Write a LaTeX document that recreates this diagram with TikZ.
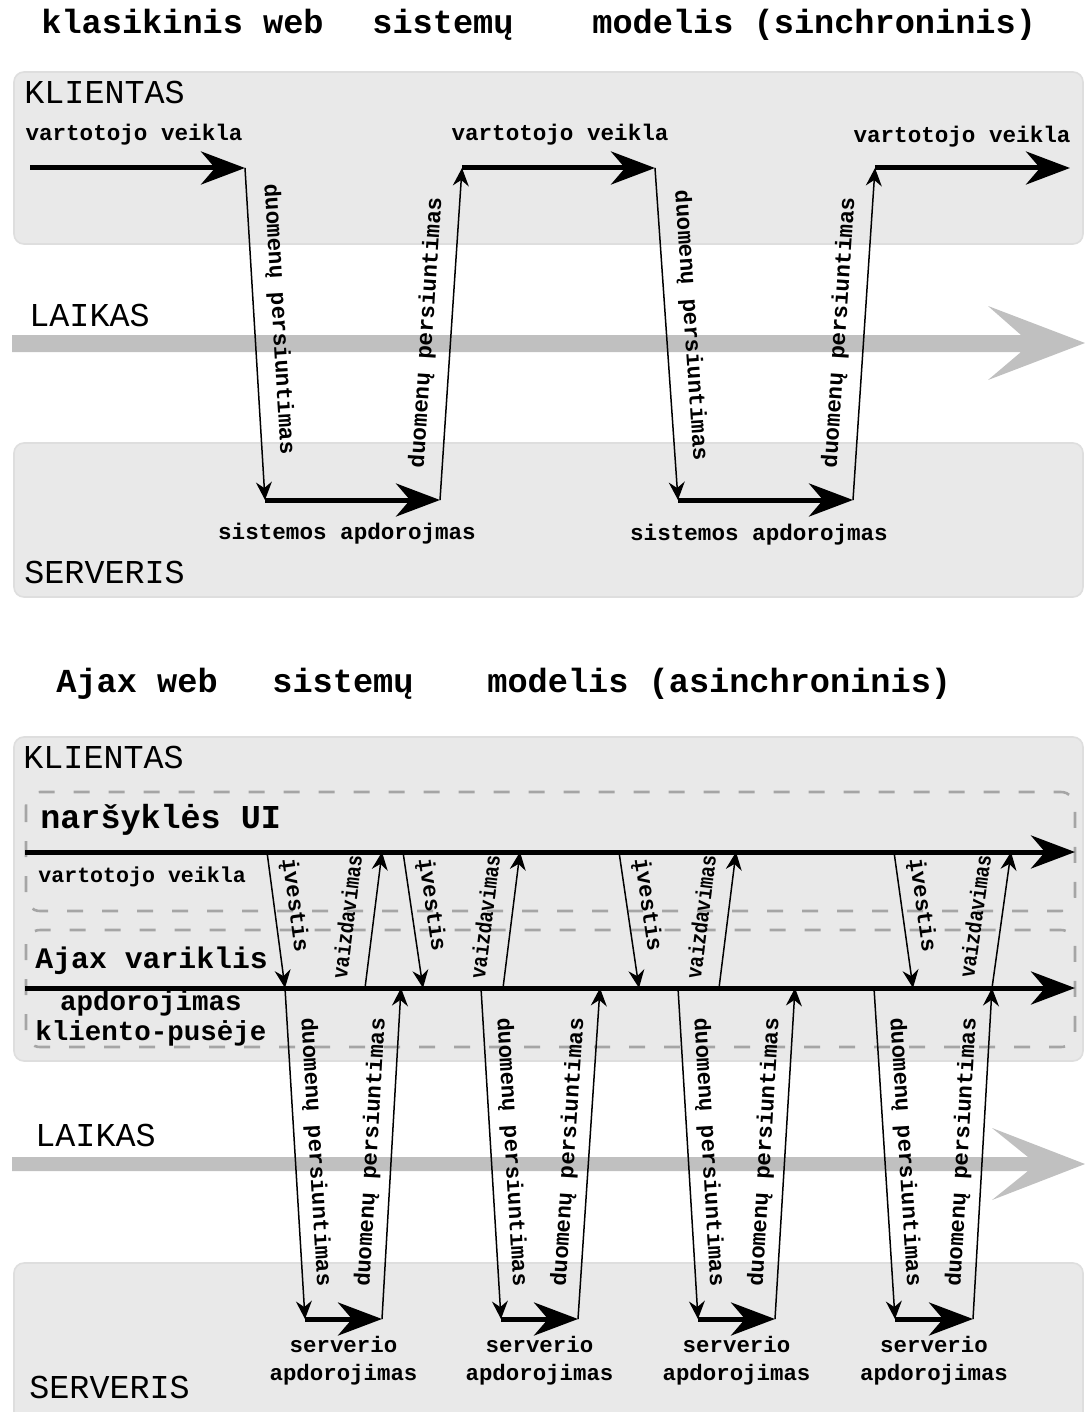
\documentclass[tikz,border=0pt]{standalone}
\usepackage{fontspec}
\newfontfamily\cour{Liberation Mono}
\usetikzlibrary{arrows.meta,calc}
\definecolor{panel}{RGB}{233,233,233}
\definecolor{panelrim}{RGB}{222,222,222}
\definecolor{timeband}{RGB}{192,192,192}
\definecolor{dashgray}{RGB}{165,165,165}

\begin{document}
\begin{tikzpicture}[x=0.5pt,y=-0.5pt,
  panelbox/.style={fill=panel,draw=panelrim,line width=0.8pt,rounded corners=5pt},
  layerbox/.style={draw=dashgray,line width=1.3pt,dash pattern=on 8pt off 9.5pt,rounded corners=7pt},
  band/.style={fill=timeband,draw=none},
  flowarr/.style={line width=2.5pt,-{Stealth[length=22pt,width=16.5pt,inset=7pt]}},
  msgarr/.style={line width=0.75pt,-{Stealth[length=9pt,width=8pt,inset=3pt]}},
  ttl/.style={font=\cour\bfseries\fontsize{16.8pt}{20pt}\selectfont,inner sep=0pt,anchor=base west},
  zone/.style={font=\cour\fontsize{16.7pt}{20pt}\selectfont,inner sep=0pt,anchor=west},
  small/.style={font=\cour\bfseries\fontsize{11.3pt}{14pt}\selectfont,inner sep=0pt},
  msgtop/.style={small,sloped,above=6.5pt},
  msgbot/.style={font=\cour\bfseries\fontsize{11.2pt}{14pt}\selectfont,inner sep=0pt,sloped,above=4.5pt},
  vzd/.style={font=\cour\bfseries\fontsize{11.2pt}{14pt}\selectfont,inner sep=0pt,sloped,above=9pt},
]
\clip (0,0) rectangle (1085,1412);
\fill[white] (0,0) rectangle (1085,1412);

% ---------- synchronous model ----------
\node[ttl] (t1a) at (41,34) {klasikinis web};
\node[ttl] (t1b) at (372,34) {sistemų};
\node[ttl] (t1c) at (592,34) {modelis (sinchroninis)};

\draw[panelbox] (14,72) rectangle (1083,244);
\draw[panelbox] (14,443) rectangle (1083,597);
\path[band] (12,335) -- (1021,335) -- (988,306) -- (1085,343) -- (988,380) -- (1021,352) -- (12,352) -- cycle;

\node[zone] (kl1) at (24,92) {KLIENTAS};
\node[zone] (lk1) at (29,315) {LAIKAS};
\node[zone] (sv1) at (24,572) {SERVERIS};

\coordinate (a0) at (30,168);
\coordinate (a1) at (245,168);
\coordinate (s1a) at (265,500);
\coordinate (s1b) at (440,500);
\coordinate (a2) at (462,168);
\coordinate (a3) at (655,168);
\coordinate (s2a) at (678,500);
\coordinate (s2b) at (853,500);
\coordinate (a4) at (875,168);
\coordinate (a5) at (1070,168);

\draw[flowarr] (a0) -- (a1);
\draw[msgarr] (a1) -- node[msgtop,pos=0.46] (m1) {duomenų persiuntimas} (s1a);
\draw[flowarr] (s1a) -- (s1b);
\draw[msgarr] (s1b) -- node[msgtop] (m2) {duomenų persiuntimas} (a2);
\draw[flowarr] (a2) -- (a3);
\draw[msgarr] (a3) -- node[msgtop,pos=0.48] (m3) {duomenų persiuntimas} (s2a);
\draw[flowarr] (s2a) -- (s2b);
\draw[msgarr] (s2b) -- node[msgtop] (m4) {duomenų persiuntimas} (a4);
\draw[flowarr] (a4) -- (a5);

\node[small] (va1) at (134,135) {vartotojo veikla};
\node[small] (va2) at (560,135) {vartotojo veikla};
\node[small] (va3) at (962,137) {vartotojo veikla};
\node[small] (sa1) at (347,534) {sistemos apdorojmas};
\node[small] (sa2) at (759,535) {sistemos apdorojmas};

% ---------- asynchronous model ----------
\node[ttl] (t2a) at (56,692) {Ajax web};
\node[ttl] (t2b) at (272,692) {sistemų};
\node[ttl] (t2c) at (487,692) {modelis (asinchroninis)};

\draw[panelbox] (14,737) rectangle (1083,1061);
\draw[panelbox] (14,1263) rectangle (1083,1440);
\path[band] (12,1157) -- (1028,1157) -- (992,1128) -- (1085,1164) -- (992,1200) -- (1028,1171) -- (12,1171) -- cycle;

\draw[layerbox] (26,792) rectangle (1075,911);
\draw[layerbox] (26,930) rectangle (1075,1047);

\node[zone] (kl2) at (23,757) {KLIENTAS};
\node[zone] (lk2) at (35,1135) {LAIKAS};
\node[zone] (sv2) at (29,1387) {SERVERIS};

\node[font=\cour\bfseries\fontsize{16.7pt}{20pt}\selectfont,inner sep=0pt,anchor=west] (ui) at (40,820) {naršyklės UI};
\node[font=\cour\bfseries\fontsize{10.8pt}{13pt}\selectfont,inner sep=0pt,anchor=west] (va4) at (38,877) {vartotojo veikla};
\node[font=\cour\bfseries\fontsize{14.9pt}{18pt}\selectfont,inner sep=0pt,anchor=west] (eng) at (35,961) {Ajax variklis};
\node[font=\cour\bfseries\fontsize{13.75pt}{15pt}\selectfont,inner sep=0pt,align=center] (cs) at (151,1018) {apdorojimas\\kliento-pusėje};

\coordinate (uiL) at (25,852);
\coordinate (uiR) at (1075,852);
\coordinate (ajL) at (25,988);
\coordinate (ajR) at (1075,988);
\draw[flowarr] (uiL) -- (uiR);
\draw[flowarr] (ajL) -- (ajR);

\foreach \i/\it/\ib/\vb/\vt/\s/\d/\e/\u in
  {1/267/285/365/382/285/305/382/401,
   2/403/423/503/520/481/501/578/600,
   3/619/639/719/736/678/698/775/795,
   4/894/913/992/1011/874/895/973/992}{
  \coordinate (ivt\i) at (\it,852);
  \coordinate (ivb\i) at (\ib,988);
  \coordinate (vzb\i) at (\vb,988);
  \coordinate (vzt\i) at (\vt,852);
  \coordinate (dn\i) at (\s,988);
  \coordinate (sa\i) at (\d,1319);
  \coordinate (sb\i) at (\e,1319);
  \coordinate (up\i) at (\u,988);
  \draw[msgarr] (ivt\i) -- node[msgbot,pos=0.41] (iv\i) {įvestis} (ivb\i);
  \draw[msgarr] (vzb\i) -- node[vzd] (vz\i) {\scalebox{0.84}[1]{vaizdavimas}} (vzt\i);
  \draw[msgarr] (dn\i) -- node[msgbot] (md\i) {duomenų persiuntimas} (sa\i);
  \draw[flowarr] (sa\i) -- (sb\i);
  \draw[msgarr] (sb\i) -- node[msgbot] (mu\i) {duomenų persiuntimas} (up\i);
  \node[font=\cour\bfseries\fontsize{11.2pt}{14pt}\selectfont,inner sep=0pt,align=center]
    (sp\i) at ($(sa\i)!0.5!(sb\i)+(0,42)$) {serverio\\apdorojimas};
}
\end{tikzpicture}
\end{document}
